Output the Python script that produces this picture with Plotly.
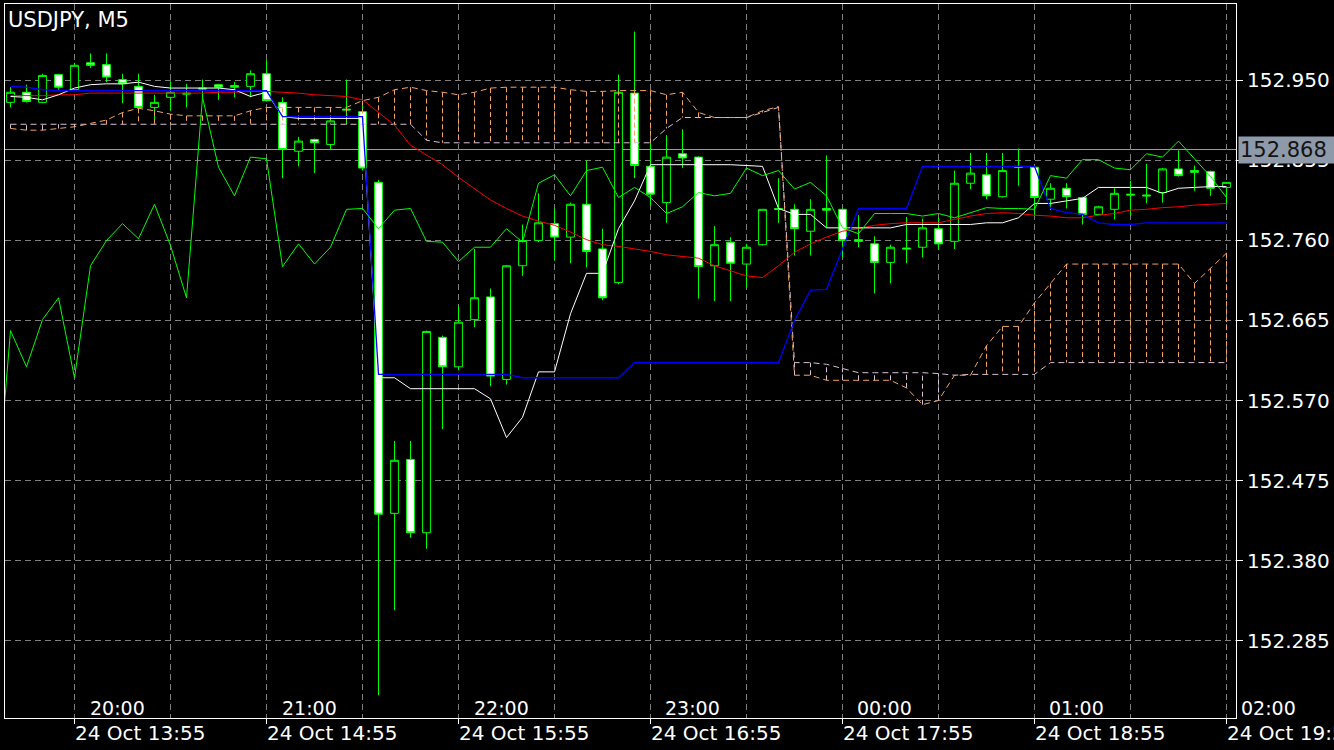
import plotly.graph_objects as go

SYMBOL = "USDJPY, M5"
BID = 152.868

# right price scale
price_ticks = [152.285, 152.380, 152.475, 152.570, 152.665, 152.760, 152.855, 152.950]

# bar index 0 = 24 Oct 13:35 (server), 5-minute bars
server_idx = [4, 16, 28, 40, 52, 64, 76]
server_labels = ["24 Oct 13:55", "24 Oct 14:55", "24 Oct 15:55", "24 Oct 16:55",
                 "24 Oct 17:55", "24 Oct 18:55", "24 Oct 19:55"]
local_idx = [5, 17, 29, 41, 53, 65, 77]
local_labels = ["20:00", "21:00", "22:00", "23:00", "00:00", "01:00", "02:00"]

opens = [152.924, 152.936, 152.924, 152.957, 152.939, 152.971, 152.969, 152.951, 152.943, 152.918,
         152.930, 152.935, 152.941, 152.945, 152.944, 152.943, 152.958, 152.924, 152.866, 152.880,
         152.874, 152.916, 152.913, 152.829, 152.436, 152.500, 152.413, 152.645, 152.610, 152.666,
         152.693, 152.595, 152.730, 152.760, 152.780, 152.764, 152.803, 152.750, 152.710, 152.935,
         152.848, 152.805, 152.863, 152.859, 152.730, 152.758, 152.732, 152.755, 152.798, 152.797,
         152.771, 152.798, 152.797, 152.761, 152.756, 152.734, 152.751, 152.752, 152.774, 152.759,
         152.828, 152.838, 152.812, 152.848, 152.847, 152.809, 152.822, 152.811, 152.791, 152.797,
         152.815, 152.814, 152.817, 152.845, 152.843, 152.842, 152.823]
highs = [152.942, 152.945, 152.958, 152.958, 152.971, 152.982, 152.982, 152.958, 152.958, 152.933,
         152.949, 152.946, 152.951, 152.946, 152.948, 152.962, 152.974, 152.930, 152.883, 152.881,
         152.905, 152.951, 152.924, 152.832, 152.522, 152.522, 152.653, 152.647, 152.683, 152.750,
         152.703, 152.731, 152.779, 152.816, 152.798, 152.805, 152.855, 152.774, 152.957, 153.008,
         152.879, 152.885, 152.892, 152.860, 152.777, 152.764, 152.756, 152.797, 152.834, 152.803,
         152.809, 152.861, 152.798, 152.790, 152.765, 152.755, 152.788, 152.786, 152.787, 152.843,
         152.864, 152.864, 152.864, 152.869, 152.848, 152.828, 152.828, 152.812, 152.801, 152.822,
         152.831, 152.851, 152.846, 152.867, 152.849, 152.843, 152.829]
lows = [152.918, 152.924, 152.923, 152.939, 152.938, 152.965, 152.948, 152.923, 152.914, 152.899,
        152.914, 152.918, 152.930, 152.927, 152.930, 152.930, 152.925, 152.834, 152.848, 152.840,
        152.868, 152.898, 152.843, 152.220, 152.321, 152.407, 152.394, 152.536, 152.606, 152.657,
        152.587, 152.589, 152.718, 152.758, 152.736, 152.733, 152.728, 152.689, 152.708, 152.834,
        152.802, 152.781, 152.846, 152.691, 152.688, 152.688, 152.704, 152.754, 152.781, 152.742,
        152.742, 152.775, 152.740, 152.752, 152.697, 152.709, 152.733, 152.740, 152.750, 152.750,
        152.821, 152.809, 152.811, 152.825, 152.790, 152.796, 152.798, 152.779, 152.790, 152.785,
        152.790, 152.804, 152.805, 152.836, 152.819, 152.813, 152.803]
closes = [152.936, 152.925, 152.956, 152.942, 152.968, 152.968, 152.954, 152.946, 152.918, 152.924,
          152.936, 152.934, 152.940, 152.942, 152.942, 152.958, 152.926, 152.868, 152.878, 152.876,
          152.902, 152.915, 152.846, 152.435, 152.499, 152.413, 152.652, 152.610, 152.663, 152.692,
          152.599, 152.730, 152.760, 152.781, 152.764, 152.803, 152.747, 152.692, 152.936, 152.849,
          152.815, 152.859, 152.858, 152.729, 152.755, 152.733, 152.752, 152.797, 152.797, 152.774,
          152.797, 152.796, 152.760, 152.759, 152.734, 152.752, 152.750, 152.775, 152.756, 152.828,
          152.840, 152.813, 152.843, 152.847, 152.811, 152.822, 152.812, 152.791, 152.800, 152.816,
          152.814, 152.813, 152.845, 152.837, 152.841, 152.822, 152.829]

red_line = [152.932, 152.932, 152.932, 152.933, 152.933, 152.935, 152.935, 152.935, 152.935, 152.935,
            152.935, 152.935, 152.935, 152.936, 152.936, 152.937, 152.937, 152.936, 152.935, 152.933,
            152.932, 152.931, 152.927, 152.912, 152.897, 152.873, 152.861, 152.850, 152.835, 152.821,
            152.808, 152.798, 152.789, 152.783, 152.778, 152.770, 152.761, 152.755, 152.753, 152.750,
            152.747, 152.743, 152.741, 152.739, 152.730, 152.724, 152.718, 152.716, 152.730, 152.746,
            152.756, 152.764, 152.771, 152.774, 152.778, 152.780, 152.781, 152.781, 152.781, 152.785,
            152.789, 152.792, 152.793, 152.792, 152.790, 152.789, 152.787, 152.787, 152.790, 152.792,
            152.796, 152.797, 152.799, 152.800, 152.802, 152.803, 152.804]
blue_line = [152.943, 152.942, 152.939] + [152.938] * 14 + [152.907] * 6 + [152.601] * 9 \
    + [152.597] * 7 + [152.615] * 10 + [152.665, 152.701, 152.702, 152.749] + [152.798] * 4 \
    + [152.848] * 8 + [152.798, 152.793, 152.791, 152.781, 152.779, 152.779] + [152.781] * 6
white_line = [152.931, 152.930, 152.927, 152.933, 152.941, 152.945, 152.946, 152.946, 152.948, 152.943,
              152.941, 152.941, 152.941, 152.941, 152.939, 152.931, 152.936, 152.907] + [152.905] * 5 \
    + [152.597, 152.597] + [152.584] * 5 \
    + [152.572, 152.526, 152.550, 152.604, 152.604, 152.673, 152.721, 152.721, 152.774, 152.807] \
    + [152.850] * 6 + [152.849, 152.848, 152.798, 152.791, 152.791] + [152.775] * 5 + [152.779] * 5 \
    + [152.781, 152.781, 152.787, 152.804, 152.804, 152.807, 152.810] + [152.823] * 4 \
    + [152.816, 152.822, 152.823, 152.824, 152.824]
# lagging (green) line, first value sits one bar left of bar 0
green_start = -1
green_line = [152.422, 152.653, 152.610, 152.666, 152.692, 152.597, 152.730, 152.760, 152.780, 152.762,
              152.803, 152.754, 152.692, 152.930, 152.847, 152.813, 152.859, 152.857, 152.729, 152.756,
              152.732, 152.752, 152.797, 152.798, 152.774, 152.796, 152.798, 152.759, 152.758, 152.735,
              152.752, 152.752, 152.774, 152.758, 152.828, 152.838, 152.813, 152.843, 152.847, 152.811,
              152.823, 152.811, 152.792, 152.800, 152.817, 152.813, 152.816, 152.846, 152.837, 152.843,
              152.821, 152.829, 152.813, 152.775, 152.768, 152.792, 152.792, 152.792, 152.789, 152.792,
              152.787, 152.793, 152.799, 152.798, 152.798, 152.797, 152.837, 152.834, 152.856, 152.856,
              152.846, 152.844, 152.863, 152.859, 152.878, 152.857, 152.836, 152.811]
span_a = [152.893, 152.891, 152.891, 152.893, 152.895, 152.899, 152.903, 152.912, 152.917, 152.914,
          152.910] + [152.908] * 4 + [152.914] + [152.918] * 6 \
    + [152.926, 152.930, 152.939, 152.942, 152.938, 152.936, 152.933, 152.936, 152.941] + [152.942] * 4 \
    + [152.939, 152.937, 152.937] + [152.938] * 3 + [152.933, 152.936, 152.912] + [152.906] * 3 \
    + [152.914, 152.919, 152.600, 152.600] + [152.594] * 5 \
    + [152.585, 152.565, 152.570, 152.600, 152.600, 152.635, 152.658, 152.658, 152.686, 152.709] \
    + [152.732] * 8 + [152.709, 152.727, 152.745]
span_b = [152.898] * 26 + [152.879] + [152.876] * 14 + [152.893] + [152.906] * 5 + [152.912, 152.918] \
    + [152.615, 152.615, 152.613, 152.608] + [152.603] * 5 + [152.602, 152.600] + [152.601] * 5 \
    + [152.615] * 12

n = len(opens)
bars = list(range(n))
X_MIN, X_MAX = -0.344, 76.594
Y_MIN, Y_MAX = 152.1930, 153.0408

FONT = "DejaVu Sans"
LIME = "#00ff00"
SANDY = "#F4A460"
THISTLE = "#D8BFD8"
GRID = "#7f7f7f"

fig = go.Figure()

fig.add_trace(go.Candlestick(
    x=bars, open=opens, high=highs, low=lows, close=closes,
    increasing=dict(line=dict(color=LIME, width=1), fillcolor="#000000"),
    decreasing=dict(line=dict(color=LIME, width=1), fillcolor="#ffffff"),
    whiskerwidth=0, showlegend=False, hoverinfo="skip"))

# cloud hatching
ha_x, ha_y, hb_x, hb_y = [], [], [], []
for i, (a, b) in enumerate(zip(span_a, span_b)):
    if abs(a - b) < 0.0015:
        continue
    if a > b:
        ha_x += [i, i, None]
        ha_y += [a, b, None]
    else:
        hb_x += [i, i, None]
        hb_y += [a, b, None]
fig.add_trace(go.Scatter(x=ha_x, y=ha_y, mode="lines", hoverinfo="skip", showlegend=False,
                         line=dict(color=SANDY, width=1, dash="5px,3px")))
fig.add_trace(go.Scatter(x=hb_x, y=hb_y, mode="lines", hoverinfo="skip", showlegend=False,
                         line=dict(color=THISTLE, width=1, dash="5px,3px")))
fig.add_trace(go.Scatter(x=bars, y=span_b, mode="lines", hoverinfo="skip", showlegend=False,
                         line=dict(color=THISTLE, width=1, dash="6px,4px")))
fig.add_trace(go.Scatter(x=bars, y=span_a, mode="lines", hoverinfo="skip", showlegend=False,
                         line=dict(color=SANDY, width=1, dash="6px,4px")))

fig.add_trace(go.Scatter(x=bars, y=red_line, mode="lines", hoverinfo="skip", showlegend=False,
                         line=dict(color="#ff0000", width=1)))
fig.add_trace(go.Scatter(x=bars, y=white_line, mode="lines", hoverinfo="skip", showlegend=False,
                         line=dict(color="#ffffff", width=1)))
fig.add_trace(go.Scatter(x=bars, y=blue_line, mode="lines", hoverinfo="skip", showlegend=False,
                         line=dict(color="#0000ff", width=1.3)))
green_x = list(range(green_start, green_start + len(green_line)))
fig.add_trace(go.Scatter(x=green_x, y=green_line, mode="lines", hoverinfo="skip", showlegend=False,
                         line=dict(color=LIME, width=1)))

grid_idx = [i for i in range(server_idx[0], n, 6) if i not in server_idx]

fig.update_layout(
    width=1334, height=750,
    margin=dict(l=5, r=98, t=4, b=32),
    paper_bgcolor="#000000", plot_bgcolor="#000000",
    font=dict(family=FONT, color="#ffffff"),
    showlegend=False,
    xaxis=dict(range=[X_MIN, X_MAX], showline=True, mirror=True, linecolor="#ffffff", linewidth=1,
               tickvals=server_idx, ticks="outside", ticklen=5, tickcolor="#ffffff",
               showticklabels=False, showgrid=True, gridcolor=GRID, griddash="6px,4px", gridwidth=1,
               minor=dict(tickvals=grid_idx, showgrid=True, gridcolor=GRID, griddash="6px,4px",
                          gridwidth=1, ticks=""),
               zeroline=False, rangeslider=dict(visible=False), fixedrange=True),
    yaxis=dict(range=[Y_MIN, Y_MAX], side="right", showline=True, mirror=True, linecolor="#ffffff",
               linewidth=1, tickvals=price_ticks, ticktext=[f"{p:.3f}" for p in price_ticks],
               ticks="outside", ticklen=6, tickcolor="#ffffff",
               tickfont=dict(family=FONT, size=20, color="#ffffff"),
               showgrid=True, gridcolor=GRID, griddash="6px,4px", gridwidth=1,
               zeroline=False, fixedrange=True, automargin=False),
)

# bid line
fig.add_shape(type="line", xref="paper", x0=0, x1=1, yref="y", y0=BID, y1=BID,
              line=dict(color="#9a9ea6", width=1), layer="below")

annotations = []
annotations.append(dict(text=SYMBOL, xref="paper", x=0, xanchor="left", xshift=1,
                        yref="paper", y=1, yanchor="middle", yshift=-16,
                        showarrow=False, font=dict(family=FONT, size=21, color="#ffffff")))
for i, lab in zip(server_idx, server_labels):
    annotations.append(dict(text=lab, xref="x", x=i, xanchor="left", xshift=-2,
                            yref="paper", y=0, yanchor="middle", yshift=-15,
                            showarrow=False, font=dict(family=FONT, size=20, color="#ffffff")))
for i, lab in zip(local_idx, local_labels):
    px = (i - X_MIN) / (X_MAX - X_MIN)
    annotations.append(dict(text=lab, xref="paper", x=px, xanchor="left", xshift=-3,
                            yref="paper", y=0, yanchor="middle", yshift=10,
                            showarrow=False, font=dict(family=FONT, size=19, color="#ffffff")))
annotations.append(dict(text=f"{BID:.3f}", xref="paper", x=1, xanchor="left", xshift=2,
                        yref="y", y=BID, yanchor="middle",
                        showarrow=False, bgcolor="#8e99aa", borderpad=1, width=96, height=24,
                        align="left", font=dict(family=FONT, size=21, color="#141414")))
fig.update_layout(annotations=annotations)

fig.write_html("out.html", config={"displayModeBar": False},
               post_script="document.body.style.margin='0px';document.body.style.overflow='hidden';")
